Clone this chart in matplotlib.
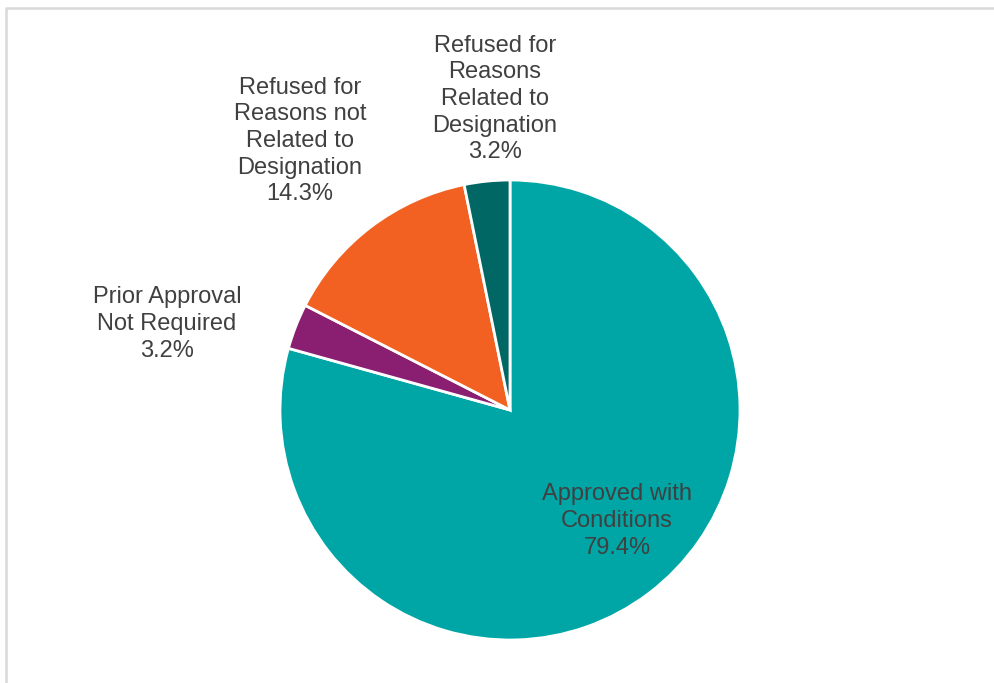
import matplotlib.pyplot as plt

categories = [
    "Approved with\nConditions",
    "Prior Approval\nNot Required",
    "Refused for\nReasons not\nRelated to\nDesignation",
    "Refused for\nReasons\nRelated to\nDesignation",
]
shares = [79.4, 3.2, 14.3, 3.2]
colors = ["#00A6A6", "#8A1F72", "#F26122", "#006765"]

# label centres in pixel coords (x, y from top)
label_pos = [(617, 521), (167, 324), (300, 141), (495, 99)]

W, H = 995, 683
fig = plt.figure(figsize=(W / 100, H / 100), dpi=100)
ax = fig.add_axes([0, 0, 1, 1])
ax.set_xlim(0, W)
ax.set_ylim(0, H)
ax.set_aspect("equal")
ax.axis("off")

wedges, _ = ax.pie(shares, colors=colors, startangle=90, counterclock=False,
                   center=(510, H - 410), radius=230,
                   wedgeprops=dict(edgecolor="white", linewidth=2))
ax.set_xlim(0, W)
ax.set_ylim(0, H)

for name, val, (px, py) in zip(categories, shares, label_pos):
    ax.text(px, H - py, f"{name}\n{val:.1f}%", ha="center", va="center",
            fontsize=17, color="#404040", family="Liberation Sans",
            linespacing=1.27)

# chart area frame (cut at right and bottom)
ax.plot([6, 6, W + 5], [-5, H - 8, H - 8], color="#D9D9D9", lw=1.8,
        solid_capstyle="butt", clip_on=False)

fig.savefig("out.png", dpi=100)
